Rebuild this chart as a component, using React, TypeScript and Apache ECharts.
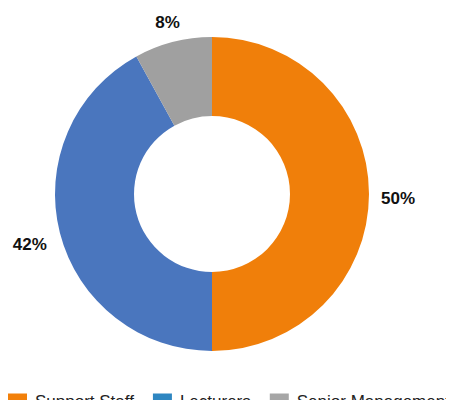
import React, { useEffect, useRef } from "react";
import * as echarts from "echarts";

const categories = ["Support Staff", "Lecturers", "Senior Management"];
const values = [50, 42, 8];
const sliceColors = ["#F07F0A", "#4A76BE", "#A0A0A0"];
const legendColors = ["#F2800A", "#2E86C1", "#A6A6A6"];

export default function App() {
  const ref = useRef<HTMLDivElement>(null);
  useEffect(() => {
    if (!ref.current) return;
    const chart = echarts.init(ref.current, undefined, { renderer: "svg" });
    const data = categories.map((name, i) => ({
      name,
      value: values[i],
      itemStyle: { color: sliceColors[i] },
    }));
    chart.setOption({
      animation: false,
      legend: {
        left: 8,
        top: 393,
        padding: 0,
        itemWidth: 19,
        itemHeight: 16,
        itemGap: 19,
        icon: "rect",
        selectedMode: false,
        textStyle: {
          fontFamily: "Liberation Sans, Arial, sans-serif",
          fontSize: 17,
          color: "#222",
          padding: [0, 0, 0, 3],
        },
        data: categories.map((name, i) => ({
          name,
          itemStyle: { color: legendColors[i] },
        })),
      },
      series: [
        {
          type: "pie",
          center: [212, 194],
          radius: [78, 157],
          startAngle: 90,
          clockwise: true,
          label: { show: false },
          labelLine: { show: false },
          silent: true,
          data,
        },
        {
          type: "pie",
          center: [212, 194],
          radius: [183, 185],
          startAngle: 90,
          clockwise: true,
          silent: true,
          itemStyle: { color: "transparent" },
          label: {
            show: true,
            position: "inside",
            formatter: "{c}%",
            offset: [-1, 4],
            fontFamily: "Liberation Sans, Arial, sans-serif",
            fontWeight: "bold",
            fontSize: 17,
            color: "#111",
          },
          labelLine: { show: false },
          data: categories.map((name, i) => ({
            name,
            value: values[i],
            label: i === 2 ? { offset: [2, 10] } : undefined,
          })),
        },
      ],
    });
    return () => chart.dispose();
  }, []);
  return <div ref={ref} style={{ width: 454, height: 408, margin: -8 }} />;
}
